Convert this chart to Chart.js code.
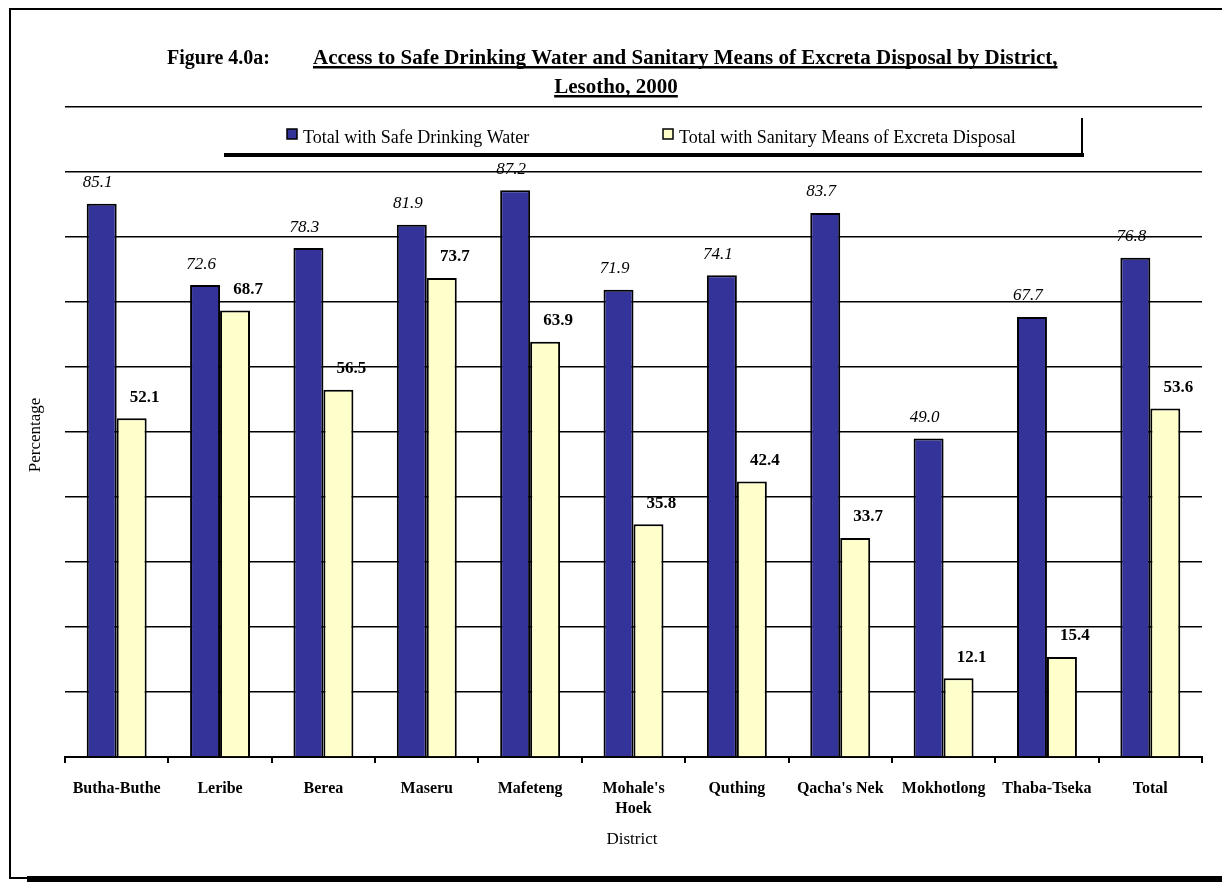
<!DOCTYPE html>
<html>
<head>
<meta charset="utf-8">
<title>Access to Safe Drinking Water and Sanitary Means of Excreta Disposal by District, Lesotho, 2000</title>
<script src="https://cdn.jsdelivr.net/npm/chart.js@4.4.1/dist/chart.umd.min.js"></script>
<style>
  html, body { margin: 0; padding: 0; background: #fff; }
  #wrap { width: 1222px; height: 882px; }
</style>
</head>
<body>
<div id="wrap"><canvas id="waterChart" width="1222" height="882"></canvas></div>
<script>
// Районы (категории оси X)
const districts = ['Butha-Buthe', 'Leribe', 'Berea', 'Maseru', 'Mafeteng', ["Mohale's", 'Hoek'],
  'Quthing', "Qacha's Nek", 'Mokhotlong', 'Thaba-Tseka', 'Total'];
// Доля населения с безопасной питьевой водой, %
const safeWater = [85.1, 72.6, 78.3, 81.9, 87.2, 71.9, 74.1, 83.7, 49.0, 67.7, 76.8];
// Доля с санитарными средствами удаления экскрементов, %
const sanitation = [52.1, 68.7, 56.5, 73.7, 63.9, 35.8, 42.4, 33.7, 12.1, 15.4, 53.6];

const seriesNames = ['Total with Safe Drinking Water', 'Total with Sanitary Means of Excreta Disposal'];
const serif = "'Liberation Serif', 'Times New Roman', serif";

// Рамка, заголовок, легенда и подписи осей
const decorPlugin = {
  id: 'decor',
  beforeDraw(chart) {
    const ctx = chart.ctx;
    ctx.save();
    ctx.fillStyle = '#fff';
    ctx.fillRect(0, 0, chart.width, chart.height);
    ctx.strokeStyle = '#000';

    // рамка
    ctx.lineWidth = 2;
    ctx.beginPath();
    ctx.moveTo(1222, 9);
    ctx.lineTo(10, 9);
    ctx.lineTo(10, 878);
    ctx.lineTo(27, 878);
    ctx.stroke();
    ctx.fillStyle = '#000';
    ctx.fillRect(27, 876, 1195, 6);

    // заголовок
    ctx.fillStyle = '#000';
    ctx.textBaseline = 'alphabetic';
    ctx.textAlign = 'left';
    ctx.font = 'bold 20px ' + serif;
    ctx.fillText('Figure 4.0a:', 167, 64);
    ctx.font = 'bold 21px ' + serif;
    const line1 = 'Access to Safe Drinking Water and Sanitary Means of Excreta Disposal by District,';
    ctx.fillText(line1, 313, 64);
    const w1 = ctx.measureText(line1).width;
    ctx.fillRect(313, 66, w1, 2.5);
    const line2 = 'Lesotho, 2000';
    const w2 = ctx.measureText(line2).width;
    ctx.fillText(line2, 616 - w2 / 2, 93);
    ctx.fillRect(616 - w2 / 2, 95, w2, 2.5);

    // легенда
    ctx.fillRect(224, 153, 860, 4);
    ctx.fillRect(1081, 118, 2, 39);
    ctx.font = '18px ' + serif;
    ctx.textBaseline = 'middle';
    const legendX = [287, 663];
    chart.data.datasets.forEach((ds, i) => {
      ctx.fillStyle = ds.backgroundColor;
      ctx.fillRect(legendX[i], 129, 10, 10);
      ctx.lineWidth = 1.5;
      ctx.strokeRect(legendX[i], 129, 10, 10);
      ctx.fillStyle = '#000';
      ctx.fillText(ds.label, legendX[i] + 16, 138);
    });

    // подписи осей
    ctx.font = '17px ' + serif;
    ctx.textAlign = 'center';
    ctx.fillText('District', 632, 840);
    ctx.translate(36, 435);
    ctx.rotate(-Math.PI / 2);
    ctx.fillText('Percentage', 0, 0);
    ctx.restore();
  }
};

// Значения над столбцами
const valueLabels = {
  id: 'valueLabels',
  afterDatasetsDraw(chart) {
    const ctx = chart.ctx;
    ctx.save();
    ctx.fillStyle = '#000';
    ctx.textAlign = 'center';
    ctx.textBaseline = 'middle';
    chart.data.datasets.forEach((ds, di) => {
      const meta = chart.getDatasetMeta(di);
      ctx.font = (di === 0 ? 'italic ' : 'bold ') + '17px ' + serif;
      meta.data.forEach((bar, i) => {
        const dx = di === 0 ? -4 : 13;
        ctx.fillText(ds.data[i].toFixed(1), bar.x + dx, bar.y - 21);
      });
    });
    ctx.restore();
  }
};

const ctx = document.getElementById('waterChart').getContext('2d');
new Chart(ctx, {
  type: 'bar',
  data: {
    labels: districts,
    datasets: [
      {
        label: seriesNames[0],
        data: safeWater,
        backgroundColor: '#333399',
        borderColor: '#000',
        borderWidth: 2,
        categoryPercentage: 0.58,
        barPercentage: 1.0
      },
      {
        label: seriesNames[1],
        data: sanitation,
        backgroundColor: '#FFFFCC',
        borderColor: '#000',
        borderWidth: 2,
        categoryPercentage: 0.58,
        barPercentage: 1.0
      }
    ]
  },
  options: {
    responsive: false,
    animation: false,
    layout: { padding: { top: 107, left: 65, right: 20, bottom: 0 } },
    plugins: {
      legend: { display: false },
      title: { display: false },
      tooltip: { enabled: false }
    },
    scales: {
      x: {
        afterFit: (scale) => { scale.height = 125; },
        grid: { drawOnChartArea: false, drawTicks: true, tickLength: 6, color: '#000', lineWidth: 2, offset: true },
        border: { display: true, color: '#000', width: 2 },
        ticks: {
          color: '#000',
          font: { family: serif, size: 16, weight: 'bold', lineHeight: 1.3 },
          padding: 15,
          maxRotation: 0,
          autoSkip: false
        }
      },
      y: {
        min: 0,
        max: 100,
        afterFit: (scale) => { scale.width = 0; },
        ticks: { display: false, stepSize: 10 },
        grid: { color: '#000', lineWidth: 1.5, drawTicks: false },
        border: { display: false }
      }
    }
  },
  plugins: [decorPlugin, valueLabels]
});
</script>
</body>
</html>
